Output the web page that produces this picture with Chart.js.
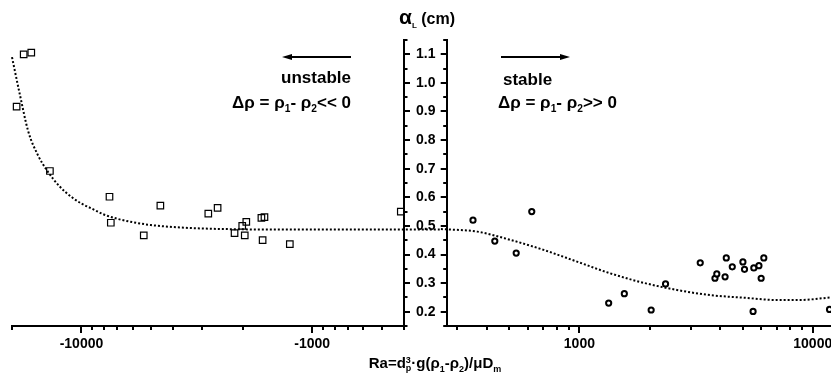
<!DOCTYPE html>
<html>
<head>
<meta charset="utf-8">
<script src="https://cdn.jsdelivr.net/npm/chart.js@4.4.1/dist/chart.umd.min.js"></script>
<style>
    html, body { margin: 0; padding: 0; background: #fff; }
    body { width: 831px; height: 385px; position: relative; overflow: hidden; font-family: 'Liberation Sans', Arial, sans-serif; font-weight: bold; color: #000; }
    #leftWrap { position: absolute; left: 0; top: 0; width: 440px; height: 385px; }
    #rightWrap { position: absolute; left: 440px; top: 0; width: 450px; height: 385px; }
    .txt { position: absolute; white-space: nowrap; line-height: 1; }
    .txt sub, .txt sup { font-size: 60%; line-height: 0; }
    .stack { display: inline-block; vertical-align: middle; line-height: 0.9; font-size: 60%; text-align: left; }
    #arrows { position: absolute; left: 0; top: 0; }
</style>
</head>
<body>
<div id="leftWrap"><canvas id="leftChart" width="440" height="385"></canvas></div>
<div id="rightWrap"><canvas id="rightChart" width="450" height="385"></canvas></div>

<div class="txt" style="left:327px; width:200px; text-align:center; top:6px;">
    <span style="font-size:21px;">α</span><sub style="font-size:8px;">L</sub><span style="font-size:16px;"> (cm)</span>
</div>

<div class="txt" style="left:0; width:351px; text-align:right; top:69px; font-size:17px;">unstable</div>
<div class="txt" style="left:0; width:351px; text-align:right; top:94px; font-size:17px;">Δρ = ρ<sub>1</sub>- ρ<sub>2</sub>&lt;&lt; 0</div>
<div class="txt" style="left:503px; top:71px; font-size:17px;">stable</div>
<div class="txt" style="left:498px; top:94px; font-size:17px;">Δρ = ρ<sub>1</sub>- ρ<sub>2</sub>&gt;&gt; 0</div>

<div class="txt" style="left:235px; width:400px; text-align:center; top:355px; font-size:15px;">Ra=d<span class="stack">3<br>p</span>·g(ρ<sub>1</sub>-ρ<sub>2</sub>)/μD<sub>m</sub></div>

<svg id="arrows" width="831" height="385">
    <line x1="290" y1="57" x2="351" y2="57" stroke="#000" stroke-width="2"/>
    <polygon points="282,57 292,54 292,60" fill="#000"/>
    <line x1="501" y1="57" x2="562" y2="57" stroke="#000" stroke-width="2"/>
    <polygon points="570,57 560,54 560,60" fill="#000"/>
</svg>

<script>
// data
const unstableRa = [-17800, -16500, -19100, -13700, -7560, -7460, -5370, -4550, -2820, -2570, -2170, -2010, -1930, -1960, -1660, -1610, -1640, -1250, -413];
const unstableAlpha = [1.100, 1.106, 0.917, 0.692, 0.602, 0.511, 0.467, 0.571, 0.543, 0.563, 0.475, 0.500, 0.514, 0.467, 0.528, 0.531, 0.450, 0.436, 0.550];

const stableRa = [350, 434, 536, 625, 1335, 1558, 2030, 2340, 3295, 3810, 3880, 4210, 4260, 4520, 5020, 5100, 5550, 5590, 5880, 6010, 6170, 11800];
const stableAlpha = [0.520, 0.447, 0.405, 0.550, 0.230, 0.263, 0.206, 0.297, 0.371, 0.317, 0.332, 0.322, 0.388, 0.357, 0.374, 0.348, 0.201, 0.353, 0.361, 0.317, 0.388, 0.208];

// dotted fit curves (they run on through the gap between the two panels)
const fitLeftRa = [-20000, -18500, -17000, -15500, -14000, -12500, -11000, -10000, -9000, -8000, -7000, -6000, -5000, -4000, -3000, -2000, -1000, -400, -280];
const fitLeftAlpha = [1.09, 0.96, 0.83, 0.75, 0.69, 0.64, 0.60, 0.578, 0.56, 0.54, 0.525, 0.513, 0.503, 0.496, 0.491, 0.488, 0.487, 0.487, 0.487];
const fitRightRa = [255, 270, 365, 507, 703, 977, 1357, 1884, 2617, 3634, 5048, 7010, 8800, 12000, 16000, 20000];
const fitRightAlpha = [0.489, 0.488, 0.480, 0.451, 0.416, 0.375, 0.334, 0.301, 0.276, 0.258, 0.249, 0.241, 0.241, 0.250, 0.258, 0.264];

// ticks
const yMajor = [0.2, 0.3, 0.4, 0.5, 0.6, 0.7, 0.8, 0.9, 1.0, 1.1];
const yMinor = [0.15, 0.25, 0.35, 0.45, 0.55, 0.65, 0.75, 0.85, 0.95, 1.05, 1.15];
const xLeftMajor = [10000, 1000];
const xLeftMinor = [20000, 9000, 8000, 7000, 6000, 5000, 4000, 3000, 2000, 900, 800, 700, 600, 500, 400];
const xRightMajor = [1000, 10000];
const xRightMinor = [300, 400, 500, 600, 700, 800, 900, 2000, 3000, 4000, 5000, 6000, 7000, 8000, 9000, 20000];

const FONT = "'Liberation Sans', Arial, sans-serif";

const tickMarks = {
    id: 'tickMarks',
    afterDraw(chart, args, opts) {
        const ctx = chart.ctx;
        const xs = chart.scales.x;
        const ys = chart.scales.y;
        const bottom = chart.chartArea.bottom;
        ctx.save();
        ctx.strokeStyle = '#000';
        ctx.lineWidth = 2;
        ctx.beginPath();
        opts.xMajor.forEach(v => {
            const px = Math.round(xs.getPixelForValue(v));
            ctx.moveTo(px, bottom); ctx.lineTo(px, bottom + 7);
        });
        opts.xMinor.forEach(v => {
            const px = Math.round(xs.getPixelForValue(v));
            ctx.moveTo(px, bottom); ctx.lineTo(px, bottom + 4);
        });
        const edge = opts.side === 'right' ? chart.chartArea.right : chart.chartArea.left;
        const dir = opts.side === 'right' ? 1 : -1;
        yMajor.forEach(v => {
            const py = Math.round(ys.getPixelForValue(v));
            ctx.moveTo(edge, py); ctx.lineTo(edge + dir * 6, py);
        });
        yMinor.forEach(v => {
            const py = Math.round(ys.getPixelForValue(v));
            ctx.moveTo(edge, py); ctx.lineTo(edge + dir * 3.5, py);
        });
        ctx.stroke();
        ctx.restore();
    }
};

function yAxis(position, showLabels) {
    return {
        position: position,
        min: 0.15,
        max: 1.15,
        grid: { display: false, drawTicks: false },
        border: { display: true, color: '#000', width: 2 },
        afterBuildTicks: scale => { scale.ticks = yMajor.map(v => ({ value: v })); },
        afterFit: scale => { scale.width = position === 'right' ? 36 : 6.7; },
        ticks: {
            display: showLabels,
            padding: 12,
            color: '#000',
            font: { family: FONT, size: 14, weight: 'bold' },
            callback: v => v.toFixed(1)
        }
    };
}

function xAxis(min, max, reverse, majors, labelFn) {
    return {
        type: 'logarithmic',
        position: 'bottom',
        min: min,
        max: max,
        reverse: reverse,
        grid: { display: false, drawTicks: false },
        border: { display: true, color: '#000', width: 2 },
        afterBuildTicks: scale => { scale.ticks = majors.map(v => ({ value: v })); },
        afterFit: scale => { scale.height = 59; },
        ticks: {
            padding: 10,
            maxRotation: 0,
            autoSkip: false,
            color: '#000',
            font: { family: FONT, size: 14, weight: 'bold' },
            callback: labelFn
        }
    };
}

const squareStyle = {
    showLine: false,
    pointStyle: 'rect',
    pointRadius: 4.6,
    pointBorderWidth: 1.2,
    pointBorderColor: '#000',
    pointBackgroundColor: 'rgba(0,0,0,0)'
};

const fitStyle = {
    showLine: true,
    borderColor: '#000',
    borderWidth: 2,
    borderDash: [2, 2],
    pointRadius: 0,
    clip: false,
    cubicInterpolationMode: 'monotone'
};

new Chart(document.getElementById('leftChart'), {
    type: 'scatter',
    data: {
        datasets: [
            Object.assign({
                label: 'fit unstable',
                data: fitLeftRa.map((x, i) => ({ x: Math.abs(x), y: fitLeftAlpha[i] }))
            }, fitStyle),
            Object.assign({
                label: 'unstable',
                data: unstableRa.map((x, i) => ({ x: Math.abs(x), y: unstableAlpha[i] }))
            }, squareStyle)
        ]
    },
    options: {
        responsive: false,
        animation: false,
        devicePixelRatio: 1,
        layout: { padding: { left: 12, top: 40, right: 0, bottom: 0 } },
        plugins: {
            legend: { display: false },
            tooltip: { enabled: false },
            tickMarks: { xMajor: xLeftMajor, xMinor: xLeftMinor, side: 'right' }
        },
        scales: {
            x: xAxis(400, 20000, true, xLeftMajor, v => '-' + v),
            y: yAxis('right', true)
        }
    },
    plugins: [tickMarks]
});

new Chart(document.getElementById('rightChart'), {
    type: 'scatter',
    data: {
        datasets: [
            Object.assign({
                label: 'fit stable',
                data: fitRightRa.map((x, i) => ({ x: x, y: fitRightAlpha[i] }))
            }, fitStyle),
            {
                label: 'stable',
                data: stableRa.map((x, i) => ({ x: x, y: stableAlpha[i] })),
                showLine: false,
                pointStyle: 'circle',
                pointRadius: 2.6,
                pointBorderWidth: 2,
                pointBorderColor: '#000',
                pointBackgroundColor: '#fff'
            }
        ]
    },
    options: {
        responsive: false,
        animation: false,
        devicePixelRatio: 1,
        layout: { padding: { left: 0, top: 40, right: 7, bottom: 0 } },
        plugins: {
            legend: { display: false },
            tooltip: { enabled: false },
            tickMarks: { xMajor: xRightMajor, xMinor: xRightMinor, side: 'left' }
        },
        scales: {
            x: xAxis(270, 20000, false, xRightMajor, v => String(v)),
            y: yAxis('left', false)
        }
    },
    plugins: [tickMarks]
});
</script>
</body>
</html>
